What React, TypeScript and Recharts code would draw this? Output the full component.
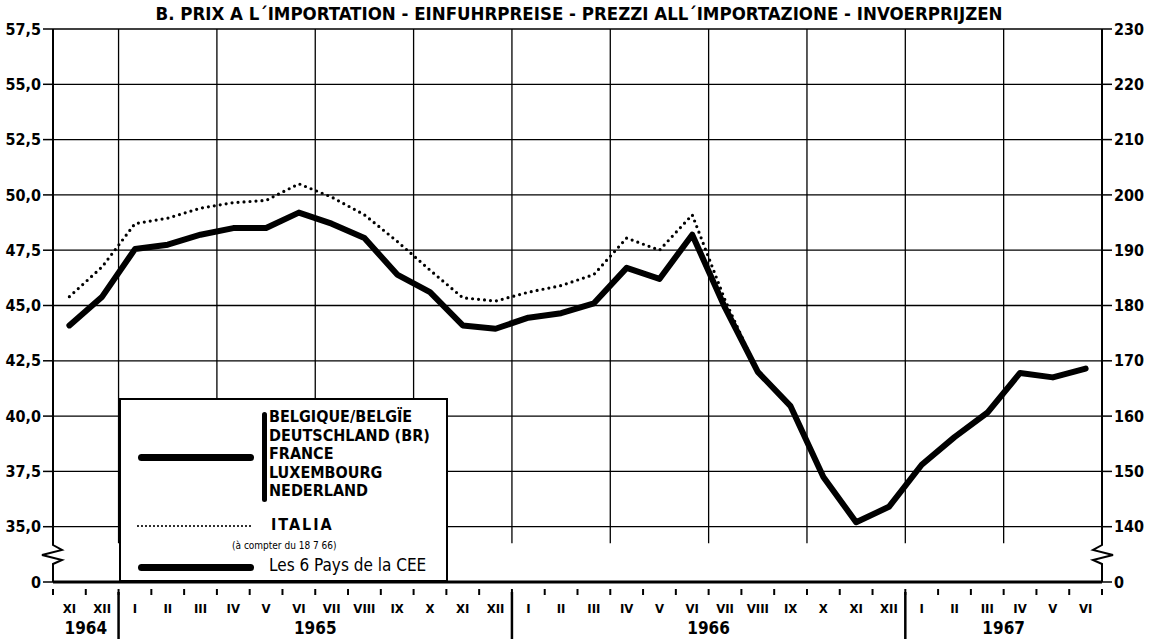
import { LineChart, Line, XAxis, YAxis, CartesianGrid, ReferenceLine, Legend } from "recharts";

// Import prices, EEC six vs Italia, monthly XI 1964 .. VI 1967.
// Left scale in units, right scale is the index (x4, 140 at 35,0).
const months = [
  "XI", "XII",
  "I", "II", "III", "IV", "V", "VI", "VII", "VIII", "IX", "X", "XI", "XII",
  "I", "II", "III", "IV", "V", "VI", "VII", "VIII", "IX", "X", "XI", "XII",
  "I", "II", "III", "IV", "V", "VI",
];
const years = ["1964", "1965", "1966", "1967"];
const monthsPerYear = [2, 12, 12, 6];

const eec = [
  44.1, 45.4,
  47.55, 47.75, 48.2, 48.5, 48.5, 49.2, 48.7, 48.05, 46.4, 45.6, 44.1, 43.95,
  44.45, 44.65, 45.1, 46.7, 46.2, 48.2, 44.9, 42.0, 40.45, 37.25, 35.2, 35.9,
  37.8, 39.05, 40.15, 41.95, 41.75, 42.15,
];
const italia = [
  45.4, 46.75,
  48.7, 48.95, 49.4, 49.65, 49.75, 50.5, 49.9, 49.1, 47.9, 46.6, 45.35, 45.2,
  45.6, 45.9, 46.4, 48.05, 47.5, 49.1, 45.25, 42.0, null, null, null, null,
  null, null, null, null, null, null,
];

const leftTicks = [32.5, 35, 37.5, 40, 42.5, 45, 47.5, 50, 52.5, 55, 57.5];
const leftTickLabels = ["0", "35,0", "37,5", "40,0", "42,5", "45,0", "47,5", "50,0", "52,5", "55,0", "57,5"];
const rightTickLabels = ["0", "140", "150", "160", "170", "180", "190", "200", "210", "220", "230"];

const countries = ["BELGIQUE/BELGÏE", "DEUTSCHLAND (BR)", "FRANCE", "LUXEMBOURG", "NEDERLAND"];

const TITLE = "B. PRIX A L´IMPORTATION - EINFUHRPREISE - PREZZI ALL´IMPORTAZIONE - INVOERPRIJZEN";
const FONT = '"DejaVu Sans Condensed", "DejaVu Sans", sans-serif';
const BREAK_TOP = 34.25; // grid stops here, axis break below

const data = months.map((m, i) => ({ pos: i + 0.5, month: m, eec: eec[i], italia: italia[i] }));

// quarter starts carry the vertical grid lines
const quarterLines = months.map((m, i) => (["I", "IV", "VII", "X"].includes(m) ? i : -1)).filter((i) => i >= 0);

const yearStarts: number[] = [];
const yearMids: number[] = [];
monthsPerYear.reduce((acc, n) => {
  yearStarts.push(acc);
  yearMids.push(acc + n / 2);
  return acc + n;
}, 0);

// boundaries and month centres, both on the same number axis
const xTicks: number[] = [];
for (let i = 0; i <= months.length * 2; i++) xTicks.push(i / 2);

function MonthTick(props: any) {
  const { x, y, payload } = props;
  const v = payload.value;
  if (Number.isInteger(v)) {
    const yi = yearMids.indexOf(v);
    return (
      <g>
        <line x1={x} x2={x} y1={y + 7} y2={y + 13} stroke="#000" strokeWidth={2} />
        {v > 0 && yearStarts.includes(v) && (
          <line x1={x} x2={x} y1={y + 10} y2={y + 57} stroke="#000" strokeWidth={2.5} />
        )}
        {yi >= 0 && (
          <text x={x} y={y + 52} textAnchor="middle" fontSize={17} fontWeight={700} fontFamily={FONT} fill="#000">
            {years[yi]}
          </text>
        )}
      </g>
    );
  }
  return (
    <text x={x} y={y + 31} textAnchor="middle" fontSize={13} fontWeight={700} fontFamily={FONT} fill="#000">
      {months[Math.floor(v)]}
    </text>
  );
}

// axis line with the zig-zag break between 35,0 and 0
function BrokenAxis(props: any) {
  const { x1, y1, y2, side } = props;
  const top = Math.min(y1, y2);
  const bottom = Math.max(y1, y2);
  const b = bottom - 37;
  const s = side === "left" ? 1 : -1;
  const d = `M${x1},${top} L${x1},${b} L${x1 + 9 * s},${b + 5} L${x1 - 11 * s},${b + 10} L${x1 + 9 * s},${b + 15} L${x1},${b + 19} L${x1},${bottom}`;
  return <path d={d} fill="none" stroke="#000" strokeWidth={2} />;
}

function LegendBox() {
  const txt = { position: "absolute" as const, fontFamily: FONT, color: "#000", whiteSpace: "nowrap" as const };
  return (
    <div
      style={{
        position: "relative",
        width: 329,
        height: 184,
        boxSizing: "border-box",
        border: "2px solid #000",
        background: "#fff",
      }}
    >
      <div style={{ position: "absolute", left: 17, top: 54, width: 116, height: 7, background: "#000", borderRadius: 4 }} />
      <div style={{ position: "absolute", left: 141, top: 12, width: 5, height: 90, background: "#000", borderRadius: 3 }} />
      <div style={{ ...txt, left: 148, top: 8, fontSize: 16, fontWeight: 700, lineHeight: "18.6px" }}>
        {countries.map((c) => (
          <div key={c}>{c}</div>
        ))}
      </div>
      <svg style={{ position: "absolute", left: 15, top: 122 }} width={120} height={8}>
        <line x1={2} x2={116} y1={4} y2={4} stroke="#000" strokeWidth={2.2} strokeDasharray="0 4" strokeLinecap="round" />
      </svg>
      <div style={{ ...txt, left: 150, top: 115, fontSize: 16, fontWeight: 700, letterSpacing: 2 }}>ITALIA</div>
      <div style={{ ...txt, left: 111, top: 140, fontSize: 10 }}>(à compter du 18 7 66)</div>
      <div style={{ position: "absolute", left: 17, top: 164, width: 116, height: 7, background: "#000", borderRadius: 4 }} />
      <div style={{ ...txt, left: 148, top: 155, fontSize: 17 }}>Les 6 Pays de la CEE</div>
    </div>
  );
}

export default function App() {
  return (
    <div style={{ position: "absolute", left: 0, top: 0, width: 1158, height: 639, background: "#fff" }}>
      <div
        style={{
          position: "absolute",
          left: 0,
          top: 3,
          width: 1158,
          textAlign: "center",
          fontFamily: FONT,
          fontWeight: 700,
          fontSize: 18.5,
          zIndex: 2,
          color: "#000",
        }}
      >
        {TITLE}
      </div>
      <LineChart width={1158} height={639} data={data} margin={{ top: 29, right: 0, bottom: 0, left: 0 }}>
        <CartesianGrid vertical={false} stroke="#000" strokeWidth={1.3} />
        {quarterLines.map((q) => (
          <ReferenceLine
            key={q}
            segment={[
              { x: q, y: 57.5 },
              { x: q, y: BREAK_TOP },
            ]}
            stroke="#000"
            strokeWidth={1.3}
          />
        ))}
        <XAxis
          type="number"
          dataKey="pos"
          domain={[0, months.length]}
          ticks={xTicks}
          interval={0}
          height={57}
          tickSize={0}
          tickMargin={0}
          tickLine={false}
          axisLine={{ stroke: "#000", strokeWidth: 3 }}
          tick={(p: any) => <MonthTick {...p} />}
        />
        <YAxis
          domain={[32.5, 57.5]}
          ticks={leftTicks}
          interval={0}
          width={53}
          axisLine={false}
          tickSize={10}
          tickMargin={2}
          tickLine={{ stroke: "#000", strokeWidth: 1.5 }}
          tick={{ fill: "#000", fontSize: 16, fontWeight: 700, fontFamily: FONT }}
          tickFormatter={(v: number) => leftTickLabels[leftTicks.indexOf(v)]}
        />
        <YAxis
          yAxisId="right"
          orientation="right"
          domain={[32.5, 57.5]}
          ticks={leftTicks}
          interval={0}
          width={56}
          axisLine={false}
          tickSize={10}
          tickMargin={2}
          tickLine={{ stroke: "#000", strokeWidth: 1.5 }}
          tick={{ fill: "#000", fontSize: 16, fontWeight: 700, fontFamily: FONT }}
          tickFormatter={(v: number) => rightTickLabels[leftTicks.indexOf(v)]}
        />
        <ReferenceLine x={0} shape={(p: any) => <BrokenAxis {...p} side="left" />} />
        <ReferenceLine x={months.length} shape={(p: any) => <BrokenAxis {...p} side="right" />} />
        <Line
          yAxisId="right"
          dataKey="italia"
          stroke="#000"
          strokeWidth={3.2}
          strokeDasharray="0 6"
          strokeLinecap="round"
          dot={false}
          isAnimationActive={false}
        />
        <Line
          dataKey="eec"
          stroke="#000"
          strokeWidth={6}
          strokeLinejoin="round"
          strokeLinecap="round"
          dot={false}
          isAnimationActive={false}
        />
        <Legend
          layout="vertical"
          align="center"
          verticalAlign="middle"
          content={() => <LegendBox />}
          wrapperStyle={{ left: 119, top: 398, width: 329, height: 184 }}
        />
      </LineChart>
    </div>
  );
}
